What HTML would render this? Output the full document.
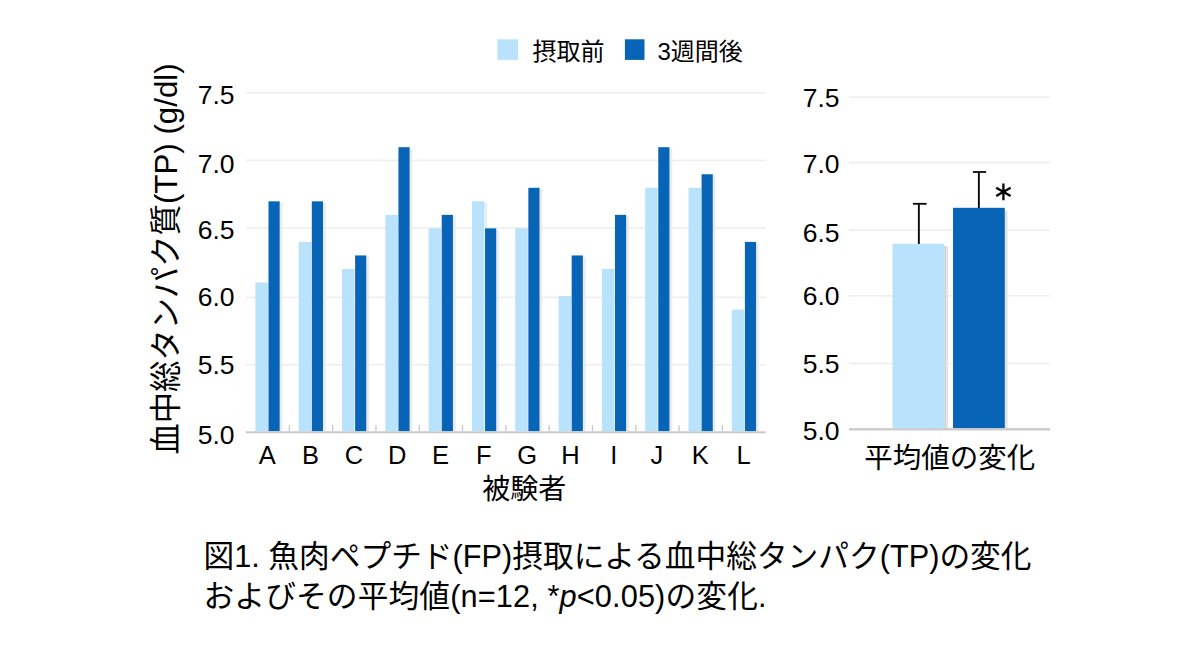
<!DOCTYPE html>
<html lang="ja"><head><meta charset="utf-8"><title>Figure 1</title>
<style>
html,body{margin:0;padding:0;background:#fff;font-family:"Liberation Sans",sans-serif;}
body{width:1200px;height:650px;overflow:hidden;}
svg{display:block;}
svg text{font-family:"Liberation Sans","Noto Sans CJK JP",sans-serif;fill:#000;}
</style></head><body>
<svg width="1200" height="650" viewBox="0 0 1200 650" role="img" aria-labelledby="figt figd">
<title id="figt">図1. 魚肉ペプチド(FP)摂取による血中総タンパク(TP)の変化およびその平均値(n=12, *p&lt;0.05)の変化.</title>
<desc id="figd">縦軸: 血中総タンパク質(TP) (g/dl) 5.0–7.5。横軸: 被験者 A–L。凡例: 摂取前 / 3週間後。右: 平均値の変化。</desc>
<rect x="246" y="92.1" width="519.7" height="1.6" fill="#eeeeee"/>
<rect x="246" y="159.6" width="519.7" height="1.6" fill="#eeeeee"/>
<rect x="246" y="227.1" width="519.7" height="1.6" fill="#eeeeee"/>
<rect x="246" y="296.6" width="519.7" height="1.6" fill="#eeeeee"/>
<rect x="246" y="363.95" width="519.7" height="1.6" fill="#eeeeee"/>
<rect x="288.61" y="425.2" width="1.4" height="6.3" fill="#cbcbcb"/>
<rect x="331.92" y="425.2" width="1.4" height="6.3" fill="#cbcbcb"/>
<rect x="375.23" y="425.2" width="1.4" height="6.3" fill="#cbcbcb"/>
<rect x="418.53" y="425.2" width="1.4" height="6.3" fill="#cbcbcb"/>
<rect x="461.84" y="425.2" width="1.4" height="6.3" fill="#cbcbcb"/>
<rect x="505.15" y="425.2" width="1.4" height="6.3" fill="#cbcbcb"/>
<rect x="548.46" y="425.2" width="1.4" height="6.3" fill="#cbcbcb"/>
<rect x="591.77" y="425.2" width="1.4" height="6.3" fill="#cbcbcb"/>
<rect x="635.08" y="425.2" width="1.4" height="6.3" fill="#cbcbcb"/>
<rect x="678.38" y="425.2" width="1.4" height="6.3" fill="#cbcbcb"/>
<rect x="721.69" y="425.2" width="1.4" height="6.3" fill="#cbcbcb"/>
<rect x="279.9" y="202.82" width="2.6" height="228.48" fill="#eeebee"/>
<rect x="255.4" y="282.5" width="12.5" height="148.8" fill="#b9e3fd"/>
<rect x="268.5" y="201.32" width="11.2" height="229.98" fill="#0864b7"/>
<rect x="323.21" y="202.82" width="2.6" height="228.48" fill="#eeebee"/>
<rect x="298.71" y="241.91" width="12.5" height="189.39" fill="#b9e3fd"/>
<rect x="311.81" y="201.32" width="11.2" height="229.98" fill="#0864b7"/>
<rect x="366.52" y="256.94" width="2.6" height="174.36" fill="#eeebee"/>
<rect x="342.02" y="268.97" width="12.5" height="162.33" fill="#b9e3fd"/>
<rect x="355.12" y="255.44" width="11.2" height="175.86" fill="#0864b7"/>
<rect x="409.82" y="148.7" width="2.6" height="282.6" fill="#eeebee"/>
<rect x="385.32" y="214.85" width="12.5" height="216.45" fill="#b9e3fd"/>
<rect x="398.43" y="147.2" width="11.2" height="284.1" fill="#0864b7"/>
<rect x="453.13" y="216.35" width="2.6" height="214.95" fill="#eeebee"/>
<rect x="428.63" y="228.38" width="12.5" height="202.92" fill="#b9e3fd"/>
<rect x="441.73" y="214.85" width="11.2" height="216.45" fill="#0864b7"/>
<rect x="496.44" y="229.88" width="2.6" height="201.42" fill="#eeebee"/>
<rect x="484.64" y="202.82" width="2.6" height="27.06" fill="#e9eef1"/>
<rect x="471.94" y="201.32" width="12.5" height="229.98" fill="#b9e3fd"/>
<rect x="485.04" y="228.38" width="11.2" height="202.92" fill="#0864b7"/>
<rect x="539.75" y="189.29" width="2.6" height="242.01" fill="#eeebee"/>
<rect x="515.25" y="228.38" width="12.5" height="202.92" fill="#b9e3fd"/>
<rect x="528.35" y="187.79" width="11.2" height="243.51" fill="#0864b7"/>
<rect x="583.06" y="256.94" width="2.6" height="174.36" fill="#eeebee"/>
<rect x="558.56" y="296.03" width="12.5" height="135.27" fill="#b9e3fd"/>
<rect x="571.66" y="255.44" width="11.2" height="175.86" fill="#0864b7"/>
<rect x="626.37" y="216.35" width="2.6" height="214.95" fill="#eeebee"/>
<rect x="601.87" y="268.97" width="12.5" height="162.33" fill="#b9e3fd"/>
<rect x="614.97" y="214.85" width="11.2" height="216.45" fill="#0864b7"/>
<rect x="669.68" y="148.7" width="2.6" height="282.6" fill="#eeebee"/>
<rect x="645.18" y="187.79" width="12.5" height="243.51" fill="#b9e3fd"/>
<rect x="658.28" y="147.2" width="11.2" height="284.1" fill="#0864b7"/>
<rect x="712.98" y="175.76" width="2.6" height="255.54" fill="#eeebee"/>
<rect x="688.48" y="187.79" width="12.5" height="243.51" fill="#b9e3fd"/>
<rect x="701.58" y="174.26" width="11.2" height="257.04" fill="#0864b7"/>
<rect x="756.29" y="243.41" width="2.6" height="187.89" fill="#eeebee"/>
<rect x="731.79" y="309.56" width="12.5" height="121.74" fill="#b9e3fd"/>
<rect x="744.89" y="241.91" width="11.2" height="189.39" fill="#0864b7"/>
<rect x="246" y="431.3" width="519.7" height="2" fill="#c9c9c9"/>
<rect x="849" y="96.3" width="201" height="1.6" fill="#eeeeee"/>
<rect x="849" y="161.8" width="201" height="1.6" fill="#eeeeee"/>
<rect x="849" y="229.3" width="201" height="1.6" fill="#eeeeee"/>
<rect x="849" y="295" width="201" height="1.6" fill="#eeeeee"/>
<rect x="849" y="362.7" width="201" height="1.6" fill="#eeeeee"/>
<rect x="944.2" y="246" width="2.2" height="182.3" fill="#d2d2d3"/>
<rect x="946.4" y="246.5" width="1.8" height="181.8" fill="#e4e4e5"/>
<rect x="1004.8" y="210.5" width="2.0" height="217.8" fill="#e4dfd8"/>
<rect x="1006.8" y="211" width="1.2" height="217.3" fill="#f0eeec"/>
<rect x="892.5" y="243.7" width="51.7" height="184.6" fill="#b9e3fd"/>
<rect x="953" y="207.8" width="51.8" height="220.5" fill="#0864b7"/>
<rect x="849" y="428.2" width="201" height="2.2" fill="#c9c9c9"/>
<rect x="917.9" y="203.7" width="1.9" height="40.2" fill="#0a0a0a"/>
<rect x="913" y="202.9" width="13.6" height="1.8" fill="#0a0a0a"/>
<rect x="977.9" y="171.7" width="1.9" height="36.3" fill="#0a0a0a"/>
<rect x="972.9" y="171.1" width="13.2" height="1.8" fill="#0a0a0a"/>
<path d="M1003.4 183.6L1003.4 200.2M996.21 187.75L1010.59 196.05M1010.59 187.75L996.21 196.05" stroke="#000" stroke-width="2.3" fill="none"/>
<rect x="497.4" y="39.3" width="20.7" height="20.6" fill="#b9e3fd"/>
<rect x="624.9" y="39.3" width="19.6" height="20.6" fill="#0864b7"/>
<text x="532.5" y="59.5" font-size="24">摂取前</text>
<text x="657.5" y="59.5" font-size="24">3週間後</text>
<text x="234.5" y="104.05" font-size="26.5" text-anchor="end">7.5</text>
<text x="234.5" y="172.55" font-size="26.5" text-anchor="end">7.0</text>
<text x="234.5" y="238.55" font-size="26.5" text-anchor="end">6.5</text>
<text x="234.5" y="306.1" font-size="26.5" text-anchor="end">6.0</text>
<text x="234.5" y="374.3" font-size="26.5" text-anchor="end">5.5</text>
<text x="234.5" y="443.5" font-size="26.5" text-anchor="end">5.0</text>
<text x="839.5" y="106.8" font-size="26.5" text-anchor="end">7.5</text>
<text x="839.5" y="172.55" font-size="26.5" text-anchor="end">7.0</text>
<text x="839.5" y="241.55" font-size="26.5" text-anchor="end">6.5</text>
<text x="839.5" y="304.6" font-size="26.5" text-anchor="end">6.0</text>
<text x="839.5" y="373.05" font-size="26.5" text-anchor="end">5.5</text>
<text x="839.5" y="439.8" font-size="26.5" text-anchor="end">5.0</text>
<text x="267.3" y="464" font-size="25.5" text-anchor="middle">A</text>
<text x="310.6" y="464" font-size="25.5" text-anchor="middle">B</text>
<text x="353.9" y="464" font-size="25.5" text-anchor="middle">C</text>
<text x="397.2" y="464" font-size="25.5" text-anchor="middle">D</text>
<text x="440.5" y="464" font-size="25.5" text-anchor="middle">E</text>
<text x="483.8" y="464" font-size="25.5" text-anchor="middle">F</text>
<text x="527.1" y="464" font-size="25.5" text-anchor="middle">G</text>
<text x="570.4" y="464" font-size="25.5" text-anchor="middle">H</text>
<text x="613.9" y="464" font-size="25.5" text-anchor="middle">I</text>
<text x="656.8" y="464" font-size="25.5" text-anchor="middle">J</text>
<text x="700.3" y="464" font-size="25.5" text-anchor="middle">K</text>
<text x="743.6" y="464" font-size="25.5" text-anchor="middle">L</text>
<text x="524.3" y="499.3" font-size="28" text-anchor="middle">被験者</text>
<text x="949.8" y="467.5" font-size="28.5" text-anchor="middle">平均値の変化</text>
<g transform="translate(177.4 456) rotate(-90)">
<text x="1.5" y="0" font-size="31.3">血中総タンパク質(TP) (g/dl)</text>
</g>
<text x="203.5" y="566.7" font-size="30.7" textLength="828" lengthAdjust="spacing">図1. 魚肉ペプチド(FP)摂取による血中総タンパク(TP)の変化</text>
<text x="203.5" y="607" font-size="30.7" textLength="563" lengthAdjust="spacing">およびその平均値(n=12, *<tspan font-style="italic">p</tspan>&lt;0.05)の変化.</text>
</svg>
</body></html>
